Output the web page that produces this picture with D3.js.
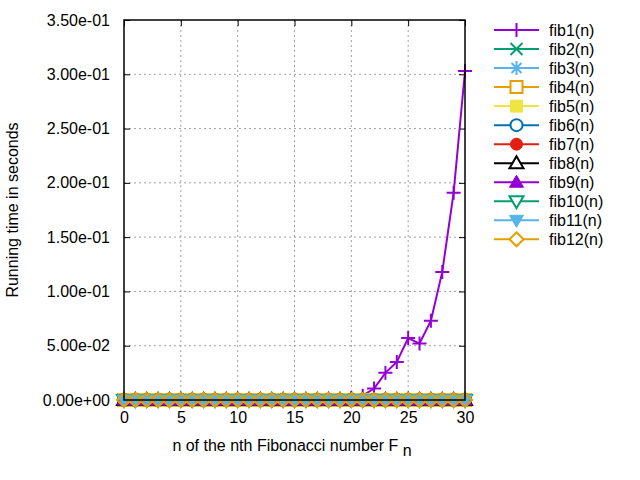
<!DOCTYPE html>
<html>
<head>
<meta charset="utf-8">
<script src="https://cdn.jsdelivr.net/npm/d3@7"></script>
<style>
  body { margin: 0; background: #fff; }
  text { font-family: "Liberation Sans", Arial, sans-serif; }
</style>
</head>
<body>
<div class="chart"></div>
<script>
// n values on the x axis
const nValues = [0,1,2,3,4,5,6,7,8,9,10,11,12,13,14,15,16,17,18,19,20,21,22,23,24,25,26,27,28,29,30]

// running time of fib1 (seconds)
const fib1Times = [0,0,0,0,0,0,0,0,0,0,0,0,0,0,0,0,0,0,0,0.0008,0.0018,0.004,0.0105,0.025,0.035,0.057,0.052,0.073,0.118,0.191,0.303]
// every other version stays at zero on this scale
const flatTimes = [0,0,0,0,0,0,0,0,0,0,0,0,0,0,0,0,0,0,0,0,0,0,0,0,0,0,0,0,0,0,0]

const seriesNames = ['fib1(n)','fib2(n)','fib3(n)','fib4(n)','fib5(n)','fib6(n)','fib7(n)','fib8(n)','fib9(n)','fib10(n)','fib11(n)','fib12(n)']
const seriesValues = [fib1Times, flatTimes, flatTimes, flatTimes, flatTimes, flatTimes, flatTimes, flatTimes, flatTimes, flatTimes, flatTimes, flatTimes]

const xTicks = [0,5,10,15,20,25,30]
const yTicks = [0,0.05,0.10,0.15,0.20,0.25,0.30,0.35]

const colors = ['#9400d3','#009e73','#56b4e9','#e69f00','#f0e442','#0072b2','#e51e10','#000000','#9400d3','#009e73','#56b4e9','#e69f00']
const markerTypes = ['plus','cross','star','box','fbox','circle','fcircle','tri','ftri','dtri','fdtri','diamond']

const width = 640
const height = 480
const margin = {top: 20, right: 175, bottom: 80, left: 124}
const graphWidth = width - margin.left - margin.right   // 341
const graphHeight = height - margin.top - margin.bottom // 380
const fontSize = '16px'

const series = seriesNames.map((name, i) => ({
  name: name,
  color: colors[i],
  marker: markerTypes[i],
  points: nValues.map((n, j) => ({n: n, v: seriesValues[i][j]}))
}))

// marker shapes, centred on 0,0
function markerPath(type) {
  const s = 7
  switch (type) {
    case 'plus': return `M${-s},0H${s}M0,${-s}V${s}`
    case 'cross': return `M${-s+1},${-s+1}L${s-1},${s-1}M${-s+1},${s-1}L${s-1},${-s+1}`
    case 'star': return `M${-s},0H${s}M0,${-s}V${s}M-5,-5L5,5M-5,5L5,-5`
    case 'box': case 'fbox': return 'M-6,-6H6V6H-6Z'
    case 'circle': case 'fcircle': return 'M6,0A6,6 0 1,1 -6,0A6,6 0 1,1 6,0Z'
    case 'tri': case 'ftri': return 'M0,-7L7,5H-7Z'
    case 'dtri': case 'fdtri': return 'M0,7L7,-5H-7Z'
    case 'diamond': return 'M0,-7L7,0L0,7L-7,0Z'
  }
}
const isFilled = t => t[0] === 'f'

let svg = d3.select('.chart')
  .append('svg')
  .attr('width', width)
  .attr('height', height)

const graph = svg.append('g')
  .attr('transform', `translate(${margin.left}, ${margin.top})`)

let xScale = d3.scaleLinear()
  .domain([0, 30])
  .range([0, graphWidth])

let yScale = d3.scaleLinear()
  .domain([0, 0.35])
  .range([graphHeight, 0])

// grid
graph.append('g')
  .selectAll('line')
  .data(xTicks.slice(1, -1))
  .enter()
  .append('line')
  .attr('x1', d => xScale(d)).attr('x2', d => xScale(d))
  .attr('y1', 0).attr('y2', graphHeight)
  .attr('stroke', '#a0a0a0').attr('stroke-dasharray', '2,3')

graph.append('g')
  .selectAll('line')
  .data(yTicks.slice(1, -1))
  .enter()
  .append('line')
  .attr('x1', 0).attr('x2', graphWidth)
  .attr('y1', d => yScale(d)).attr('y2', d => yScale(d))
  .attr('stroke', '#a0a0a0').attr('stroke-dasharray', '2,3')

// axes: labels with inward ticks, mirrored on the other side
const xAxis = d3.axisBottom(xScale).tickValues(xTicks).tickSizeInner(-6).tickSizeOuter(0).tickPadding(12)
const yAxis = d3.axisLeft(yScale).tickValues(yTicks).tickSizeInner(-6).tickSizeOuter(0).tickPadding(14)
  .tickFormat(d => d === 0 ? '0.00e+00' : d3.format('.2e')(d).replace(/e-(\d)$/, 'e-0$1'))

const xAxisGroup = graph.append('g').attr('transform', `translate(0, ${graphHeight})`).call(xAxis)
const yAxisGroup = graph.append('g').call(yAxis)
const xTop = graph.append('g').call(d3.axisTop(xScale).tickValues(xTicks).tickSizeInner(-6).tickSizeOuter(0).tickFormat(''))
const yRight = graph.append('g').attr('transform', `translate(${graphWidth}, 0)`)
  .call(d3.axisRight(yScale).tickValues(yTicks).tickSizeInner(-6).tickSizeOuter(0).tickFormat(''))

;[xAxisGroup, yAxisGroup, xTop, yRight].forEach(g => {
  g.select('.domain').remove()
  g.selectAll('line').attr('stroke', '#000')
  g.selectAll('text')
    .attr('fill', '#000')
    .attr('font-family', 'Liberation Sans, Arial, sans-serif')
    .attr('font-size', fontSize)
})
xAxisGroup.selectAll('text').attr('dy', '0.71em')

// series lines and points
const line = d3.line()
  .x(d => xScale(d.n))
  .y(d => yScale(d.v))

series.forEach(s => {
  const g = graph.append('g')
  g.append('path')
    .datum(s.points)
    .attr('d', line)
    .attr('fill', 'none')
    .attr('stroke', s.color)
    .attr('stroke-width', 2)
  g.selectAll('path.pt')
    .data(s.points)
    .enter()
    .append('path')
    .attr('class', 'pt')
    .attr('d', markerPath(s.marker))
    .attr('transform', d => `translate(${xScale(d.n)}, ${yScale(d.v)})`)
    .attr('fill', isFilled(s.marker) ? s.color : 'none')
    .attr('stroke', s.color)
    .attr('stroke-width', isFilled(s.marker) ? 1 : 2)
})

// border
graph.append('rect')
  .attr('width', graphWidth)
  .attr('height', graphHeight)
  .attr('fill', 'none')
  .attr('stroke', '#000')
  .attr('stroke-width', 1.5)

// axis titles
svg.append('text')
  .attr('transform', 'translate(17.5, 210) rotate(-90)')
  .attr('text-anchor', 'middle')
  .attr('font-size', fontSize)
  .text('Running time in seconds')

const xTitle = svg.append('text')
  .attr('x', 292)
  .attr('y', 451)
  .attr('text-anchor', 'middle')
  .attr('font-size', fontSize)
xTitle.append('tspan').text('n of the nth Fibonacci number F ')
xTitle.append('tspan').attr('dy', 4.5).text('n')

// legend
const legend = svg.append('g')
  .attr('transform', 'translate(494, 30)')

const rows = legend.selectAll('g')
  .data(series)
  .enter()
  .append('g')
  .attr('transform', (d, i) => `translate(0, ${i * 19.03})`)

rows.append('line')
  .attr('x1', 0).attr('x2', 45)
  .attr('stroke', d => d.color)
  .attr('stroke-width', 2)

rows.append('path')
  .attr('d', d => markerPath(d.marker))
  .attr('transform', 'translate(22.5, 0)')
  .attr('fill', d => isFilled(d.marker) ? d.color : '#fff')
  .attr('stroke', d => d.color)
  .attr('stroke-width', d => isFilled(d.marker) ? 1 : 2)

rows.append('text')
  .attr('x', 55)
  .attr('y', 5.5)
  .attr('font-size', fontSize)
  .text(d => d.name)
</script>
</body>
</html>
